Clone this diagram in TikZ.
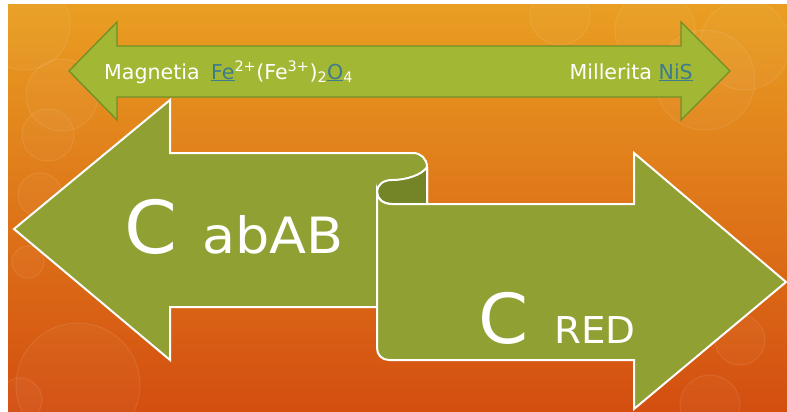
\documentclass[tikz,border=0pt]{standalone}
\usepackage{fontspec}
\setmainfont{DejaVu Sans}
\definecolor{bgtop}{RGB}{233,158,34}
\definecolor{bgmid}{RGB}{225,122,28}
\definecolor{bgbot}{RGB}{211,78,16}
\definecolor{topgreen}{RGB}{162,184,52}
\definecolor{topedge}{RGB}{112,144,38}
\definecolor{biggreen}{RGB}{144,160,50}
\definecolor{curldark}{RGB}{116,133,40}
\definecolor{linkteal}{RGB}{62,124,140}
\newcommand{\lnk}[1]{\textcolor{linkteal}{\underline{#1}}}
\tikzset{
  toparrow/.style={fill=topgreen, draw=topedge, line width=1.3pt, line join=miter},
  bigarrow/.style={fill=biggreen, draw=white, line width=2pt, line join=miter},
  curlpart/.style={fill=curldark, draw=white, line width=2pt, line join=round},
  bubble/.style={draw=white, draw opacity=0.09, fill=white, fill opacity=0.03, line width=1pt},
  txt/.style={text=white, inner sep=0pt}
}
\begin{document}
\begin{tikzpicture}[x=1pt, y=-1pt]
\useasboundingbox (0,0) rectangle (787,412);
\fill[white] (0,0) rectangle (787,412);
\shade[top color=bgtop, middle color=bgmid, bottom color=bgbot] (8,5) rectangle (787,412);
\begin{scope}
\clip (8,5) rectangle (787,412);
\draw[bubble] (25,25) circle (45);
\draw[bubble] (62,95) circle (36);
\draw[bubble] (48,135) circle (26);
\draw[bubble] (40,195) circle (22);
\draw[bubble] (28,262) circle (16);
\draw[bubble] (78,385) circle (62);
\draw[bubble] (20,400) circle (22);
\draw[bubble] (655,30) circle (40);
\draw[bubble] (745,45) circle (45);
\draw[bubble] (705,80) circle (50);
\draw[bubble] (740,340) circle (25);
\draw[bubble] (710,405) circle (30);
\draw[bubble] (560,15) circle (30);
\end{scope}
% top double arrow
\draw[toparrow] (69,71) coordinate (tl) -- (117,22) -- (117,46) -- (681,46) -- (681,22) -- (730,71) coordinate (tr)
  -- (681,120) -- (681,97) -- (117,97) -- (117,120) -- cycle;
% left big arrow
\draw[bigarrow] (14,229) -- (170,100) -- (170,153) -- (413,153)
  .. controls (421,153) and (427,159) .. (427,167) -- (427,307) -- (170,307) -- (170,360) -- cycle;
% curl
\draw[curlpart] (427,167) -- (427,204) -- (392,204)
  .. controls (383,204) and (377,199) .. (377,192)
  .. controls (377,185) and (383,180) .. (392,180)
  .. controls (406,180) and (422,175) .. (427,167) -- cycle;
% right big arrow
\draw[bigarrow] (377,192) -- (377,348) .. controls (377,355) and (382,360) .. (389,360)
  -- (634,360) -- (634,409) -- (786,282) -- (634,153) -- (634,204) -- (392,204)
  .. controls (383,204) and (377,199) .. (377,192) -- cycle;
% texts
\node[txt, anchor=base west, font=\fontsize{20.6}{24}\selectfont] (mag) at (104,79)
  {Magnetia\hspace{0.55em}\lnk{Fe}\textsuperscript{2+}(Fe\textsuperscript{3+})\textsubscript{2}\lnk{O}\textsubscript{4}};
\node[txt, anchor=base east, font=\fontsize{20.6}{24}\selectfont] (mil) at (693,79) {Millerita \lnk{NiS}};
\node[txt, anchor=base west, font=\fontsize{73}{80}\selectfont] (c1) at (124,253) {\scalebox{1.04}[1]{C}};
\node[txt, anchor=base west, font=\fontsize{50}{56}\selectfont] (ab) at (202,253) {\scalebox{1.08}[1]{abAB}};
\node[txt, anchor=base west, font=\fontsize{69}{76}\selectfont] (c2) at (478,343) {\scalebox{1.04}[1]{C}};
\node[txt, anchor=base west, font=\fontsize{37}{42}\selectfont] (red) at (554,343) {\scalebox{1.05}[1]{RED}};
\end{tikzpicture}
\end{document}
